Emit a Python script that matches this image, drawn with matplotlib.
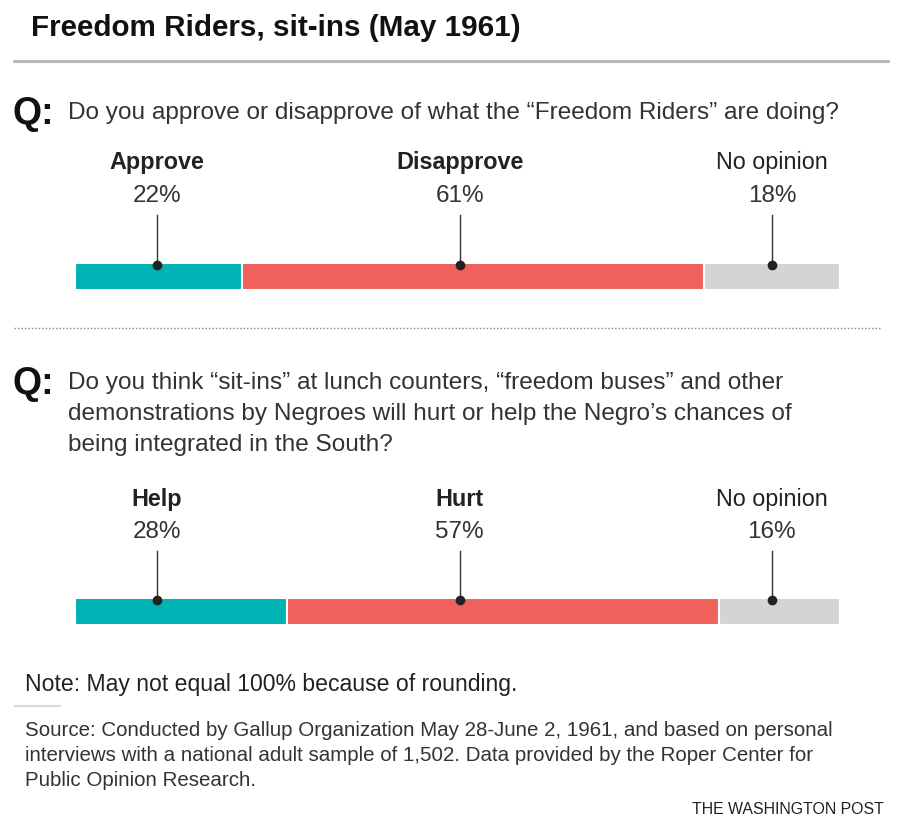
import matplotlib
matplotlib.use('agg')
import matplotlib.pyplot as plt
import numpy as np

# Data
q1_lines = ['Do you approve or disapprove of what the \u201cFreedom Riders\u201d are doing?']
q1_labels = ['Approve', 'Disapprove', 'No opinion']
q1_values = [22, 61, 18]

q2_lines = ['Do you think \u201csit-ins\u201d at lunch counters, \u201cfreedom buses\u201d and other',
            'demonstrations by Negroes will hurt or help the Negro\u2019s chances of',
            'being integrated in the South?']
q2_labels = ['Help', 'Hurt', 'No opinion']
q2_values = [28, 57, 16]

source_lines = ['Source: Conducted by Gallup Organization May 28-June 2, 1961, and based on personal',
                'interviews with a national adult sample of 1,502. Data provided by the Roper Center for',
                'Public Opinion Research.']

colors = ['#00b2b4', '#f0615b', '#d4d4d4']

plt.rcParams['font.family'] = ['Liberation Sans', 'DejaVu Sans']

W, H = 916, 833
fig = plt.figure(figsize=(W / 100, H / 100), dpi=100)


def fx(x):
    return x / W


def fy(y):
    return 1 - y / H


def txt(x, y, s, **kw):
    kw.setdefault('va', 'center')
    kw.setdefault('color', '#222222')
    fig.text(fx(x), fy(y), s, **kw)


def hline(x0, x1, y, **kw):
    fig.add_artist(plt.Line2D([fx(x0), fx(x1)], [fy(y), fy(y)], transform=fig.transFigure, **kw))


# Title and rules
txt(31, 28, 'Freedom Riders, sit-ins (May 1961)', fontsize=21.3, fontweight='bold', color='#111111')
hline(14, 888, 61, color='#b3b3b3', lw=2)


def draw_question(qy, lines, labels, values, label_y, bar_top):
    txt(13, qy + 1, 'Q:', fontsize=27, fontweight='bold', color='#111111')
    for k, line in enumerate(lines):
        txt(68, qy + 31 * k, line, fontsize=17.6, color='#333333')
    bar_h = 27
    ax = fig.add_axes([fx(75), fy(bar_top + bar_h), fx(840) - fx(75), bar_h / H])
    lefts = np.concatenate([[0], np.cumsum(values)[:-1]])
    ax.barh(0, values, left=lefts, height=1, color=colors, edgecolor='white', linewidth=1.5)
    ax.set_xlim(0, sum(values))
    ax.set_ylim(-0.5, 0.5)
    ax.axis('off')
    pos = [0.107, 0.503, 0.911]
    for i, (lab, v) in enumerate(zip(labels, values)):
        xp = 75 + pos[i] * 765
        weight = 'normal' if lab == 'No opinion' else 'bold'
        txt(xp, label_y, lab, fontsize=16.8, fontweight=weight, ha='center', color='#222222')
        txt(xp, label_y + 33, f'{v}%', fontsize=17.5, ha='center', color='#333333')
        fig.add_artist(plt.Line2D([fx(xp), fx(xp)], [fy(label_y + 52), fy(bar_top + 2)],
                                  transform=fig.transFigure, color='#333333', lw=1))
        fig.add_artist(plt.Line2D([fx(xp)], [fy(bar_top + 2)], transform=fig.transFigure,
                                  marker='o', markersize=6, color='#222222', zorder=5))


draw_question(113, q1_lines, q1_labels, q1_values, 163, 263)
hline(14, 882, 328, color='#888888', lw=1, linestyle=(0, (1, 1.5)))
draw_question(383, q2_lines, q2_labels, q2_values, 499, 598)

txt(25, 684, 'Note: May not equal 100% because of rounding.', fontsize=16.6, color='#222222')
hline(15, 60, 706, color='#d8d8d8', lw=1.5)
for k, line in enumerate(source_lines):
    txt(25, 731 + 24.5 * k, line, fontsize=14.8, color='#333333')
txt(884, 810, 'THE WASHINGTON POST', fontsize=11.4, ha='right', color='#222222')

plt.savefig('out.png', dpi=100)
